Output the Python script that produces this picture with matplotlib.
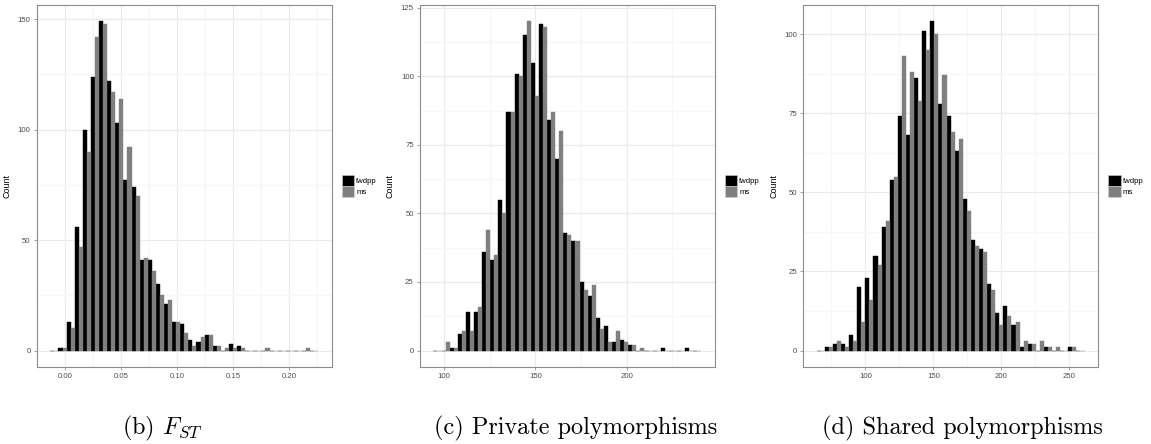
import numpy as np
import matplotlib
matplotlib.use("Agg")
import matplotlib.pyplot as plt
from matplotlib.patches import Patch
from matplotlib.ticker import MultipleLocator

plt.rcParams["font.family"] = ["Liberation Sans", "DejaVu Sans"]
plt.rcParams["mathtext.fontset"] = "cm"

# (b) F_ST : 33 bins
fst_start, fst_width = -0.0095, 0.00725
fst_fwdpp = [0, 1, 13, 56, 100, 124, 149, 122, 103, 77, 74, 41, 41, 30, 21, 13, 12,
             5, 4, 7, 2, 0, 3, 2, 0, 0, 0, 0, 0, 0, 0, 0, 0]
fst_ms = [0, 1, 10, 47, 90, 142, 148, 117, 114, 92, 70, 42, 36, 25, 23, 13, 8,
          2, 6, 7, 2, 1, 1, 1, 0, 0, 1, 0, 0, 0, 0, 1, 0]

# (c) private polymorphisms
priv_start, priv_width = 96.3, 4.45
priv_fwdpp = [0, 0, 1, 6, 14, 14, 36, 33, 55, 87, 101, 115, 105, 119, 84, 70, 43,
              40, 25, 20, 12, 9, 3, 4, 2, 0, 0, 0, 1, 0, 0, 1, 0]
priv_ms = [0, 3, 1, 7, 7, 16, 44, 35, 50, 87, 100, 120, 93, 118, 87, 80, 42,
           40, 22, 24, 8, 3, 7, 3, 2, 1, 0, 0, 0, 0, 0, 0, 0]

# (d) shared polymorphisms
shared_start, shared_width = 67.1, 5.97
shared_fwdpp = [0, 1, 2, 2, 5, 20, 23, 30, 39, 54, 74, 68, 86, 101, 104, 78, 74,
                63, 48, 35, 32, 21, 12, 14, 8, 1, 2, 0, 1, 0, 0, 1, 0]
shared_ms = [0, 1, 3, 1, 3, 9, 16, 27, 41, 55, 93, 88, 79, 95, 100, 87, 69,
             67, 44, 33, 31, 19, 8, 11, 9, 3, 2, 3, 1, 1, 0, 1, 0]

captions = ["(b) $F_{ST}$", "(c) Private polymorphisms", "(d) Shared polymorphisms"]

panels = [
    dict(start=fst_start, width=fst_width, a=fst_fwdpp, b=fst_ms,
         xmaj=0.05, xmin=0.025, ymaj=50, ymin=25, fmt="{:.2f}"),
    dict(start=priv_start, width=priv_width, a=priv_fwdpp, b=priv_ms,
         xmaj=50, xmin=25, ymaj=25, ymin=12.5, fmt="{:.0f}"),
    dict(start=shared_start, width=shared_width, a=shared_fwdpp, b=shared_ms,
         xmaj=50, xmin=25, ymaj=25, ymin=12.5, fmt="{:.0f}"),
]

lefts = [0.0321, 0.3649, 0.6979]
cap_x = [0.141, 0.500, 0.836]

fig = plt.figure(figsize=(11.51, 4.44), dpi=100)

for i, p in enumerate(panels):
    ax = fig.add_axes([lefts[i], 0.1734, 0.2560, 0.8153])
    a = np.array(p["a"])
    b = np.array(p["b"])
    w = p["width"]
    centers = p["start"] + w * np.arange(len(a))
    ax.bar(centers - w / 4, a, width=w / 2, color="black", edgecolor="black",
           linewidth=0.3, zorder=3)
    ax.bar(centers + w / 4, b, width=w / 2, color="#7f7f7f", edgecolor="#7f7f7f",
           linewidth=0.3, zorder=3)

    lo, hi = centers[0] - w / 2, centers[-1] + w / 2
    pad = 0.05 * (hi - lo)
    ax.set_xlim(lo - pad, hi + pad)
    ymax = max(a.max(), b.max())
    ax.set_ylim(-0.05 * ymax, 1.05 * ymax)

    ax.xaxis.set_major_locator(MultipleLocator(p["xmaj"]))
    ax.xaxis.set_minor_locator(MultipleLocator(p["xmin"]))
    ax.yaxis.set_major_locator(MultipleLocator(p["ymaj"]))
    ax.yaxis.set_minor_locator(MultipleLocator(p["ymin"]))
    fmt = p["fmt"]
    ax.xaxis.set_major_formatter(lambda v, pos, f=fmt: f.format(v + 0.0))
    ax.yaxis.set_major_formatter(lambda v, pos: "{:.0f}".format(v))

    ax.grid(True, which="major", color="#ebebeb", linewidth=0.9, zorder=0)
    ax.grid(True, which="minor", color="#f7f7f7", linewidth=0.9, zorder=0)
    ax.set_axisbelow(True)
    for s in ax.spines.values():
        s.set_color("#8c8c8c")
        s.set_linewidth(0.8)
    ax.tick_params(which="major", length=2.5, width=0.5, color="#7f7f7f",
                   labelsize=5.6, labelcolor="#4d4d4d", pad=2)
    ax.tick_params(which="minor", length=0)

    ax.set_ylabel("Count", fontsize=6.4)
    ax.yaxis.set_label_coords(-0.085, 0.5)

    handles = [Patch(facecolor="black", edgecolor="#d0d0d0", linewidth=0.4, label="fwdpp"),
               Patch(facecolor="#7f7f7f", edgecolor="#d0d0d0", linewidth=0.4, label="ms")]
    ax.legend(handles=handles, loc="center left", bbox_to_anchor=(1.035, 0.5),
              frameon=False, fontsize=5.6, handlelength=1.6, handleheight=1.8,
              handletextpad=0.25, labelspacing=0, borderpad=0, borderaxespad=0)

    fig.text(cap_x[i], 0.036, captions[i], ha="center", va="center",
             fontsize=17.5, family="cmr10")

fig.savefig("out.png", dpi=100)
